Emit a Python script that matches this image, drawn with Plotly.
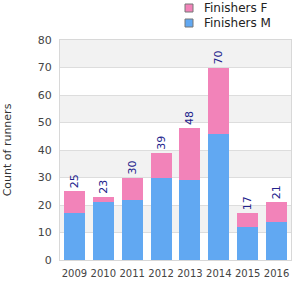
import plotly.graph_objects as go

years = ["2009", "2010", "2011", "2012", "2013", "2014", "2015", "2016"]
finishers_m = [17, 21, 22, 30, 29, 46, 12, 14]
finishers_f = [8, 2, 8, 9, 19, 24, 5, 7]
totals = [m + f for m, f in zip(finishers_m, finishers_f)]
series_names = ["Finishers F", "Finishers M"]
series_colors = ["#f283b9", "#61a8f2"]

W, H = 300, 300
L, R, T, B = 60, 9, 40, 40
pw, ph = W - L - R, H - T - B

fig = go.Figure()
fig.add_trace(go.Bar(x=years, y=finishers_m, name=series_names[1],
                     marker=dict(color=series_colors[1], line=dict(width=0))))
fig.add_trace(go.Bar(x=years, y=finishers_f, name=series_names[0],
                     marker=dict(color=series_colors[0], line=dict(width=0)),
                     text=[str(t) for t in totals], textposition="outside",
                     textangle=-90, cliponaxis=False,
                     textfont=dict(color="#22228c", size=11, family="DejaVu Sans")))

# alternating background bands
for i in range(0, 80, 10):
    if (i // 10) % 2 == 1:
        fig.add_shape(type="rect", xref="paper", yref="y", x0=0, x1=1, y0=i, y1=i + 10,
                      fillcolor="#f2f2f2", line=dict(width=0), layer="below")

# manual legend
def px_x(p):
    return (p - L) / pw

def px_y(p):
    return 1 - (p - T) / ph

for k, (nm, col) in enumerate(zip(series_names, series_colors)):
    cy = 8 + 15 * k
    fig.add_shape(type="rect", xref="paper", yref="paper",
                  x0=px_x(185), x1=px_x(193), y0=px_y(cy + 4), y1=px_y(cy - 4),
                  fillcolor=col, line=dict(color="#777777", width=1))
    fig.add_annotation(xref="paper", yref="paper", x=px_x(202), y=px_y(cy),
                       xanchor="left", yanchor="middle", text=nm, showarrow=False,
                       font=dict(size=12, color="#222222", family="DejaVu Sans"))

fig.update_layout(
    width=W, height=H,
    margin=dict(l=L, r=R, t=T, b=B, autoexpand=False),
    barmode="stack", bargap=0.27,
    plot_bgcolor="white", paper_bgcolor="white",
    font=dict(family="DejaVu Sans", size=11, color="#444"),
    showlegend=False,
    xaxis=dict(showline=True, linecolor="#d8d8d8", mirror=True, ticks="",
               tickangle=0, ticklabelstandoff=4,
               tickfont=dict(size=10, color="#444")),
    yaxis=dict(range=[0, 80], dtick=10, showgrid=True, gridcolor="#dddddd",
               showline=True, linecolor="#d8d8d8", mirror=True, zeroline=False,
               ticklabelstandoff=5,
               title=dict(text="Count of runners", font=dict(size=11, color="#333"), standoff=23),
               tickfont=dict(size=11, color="#444")),
)

fig.write_html("out.html")
